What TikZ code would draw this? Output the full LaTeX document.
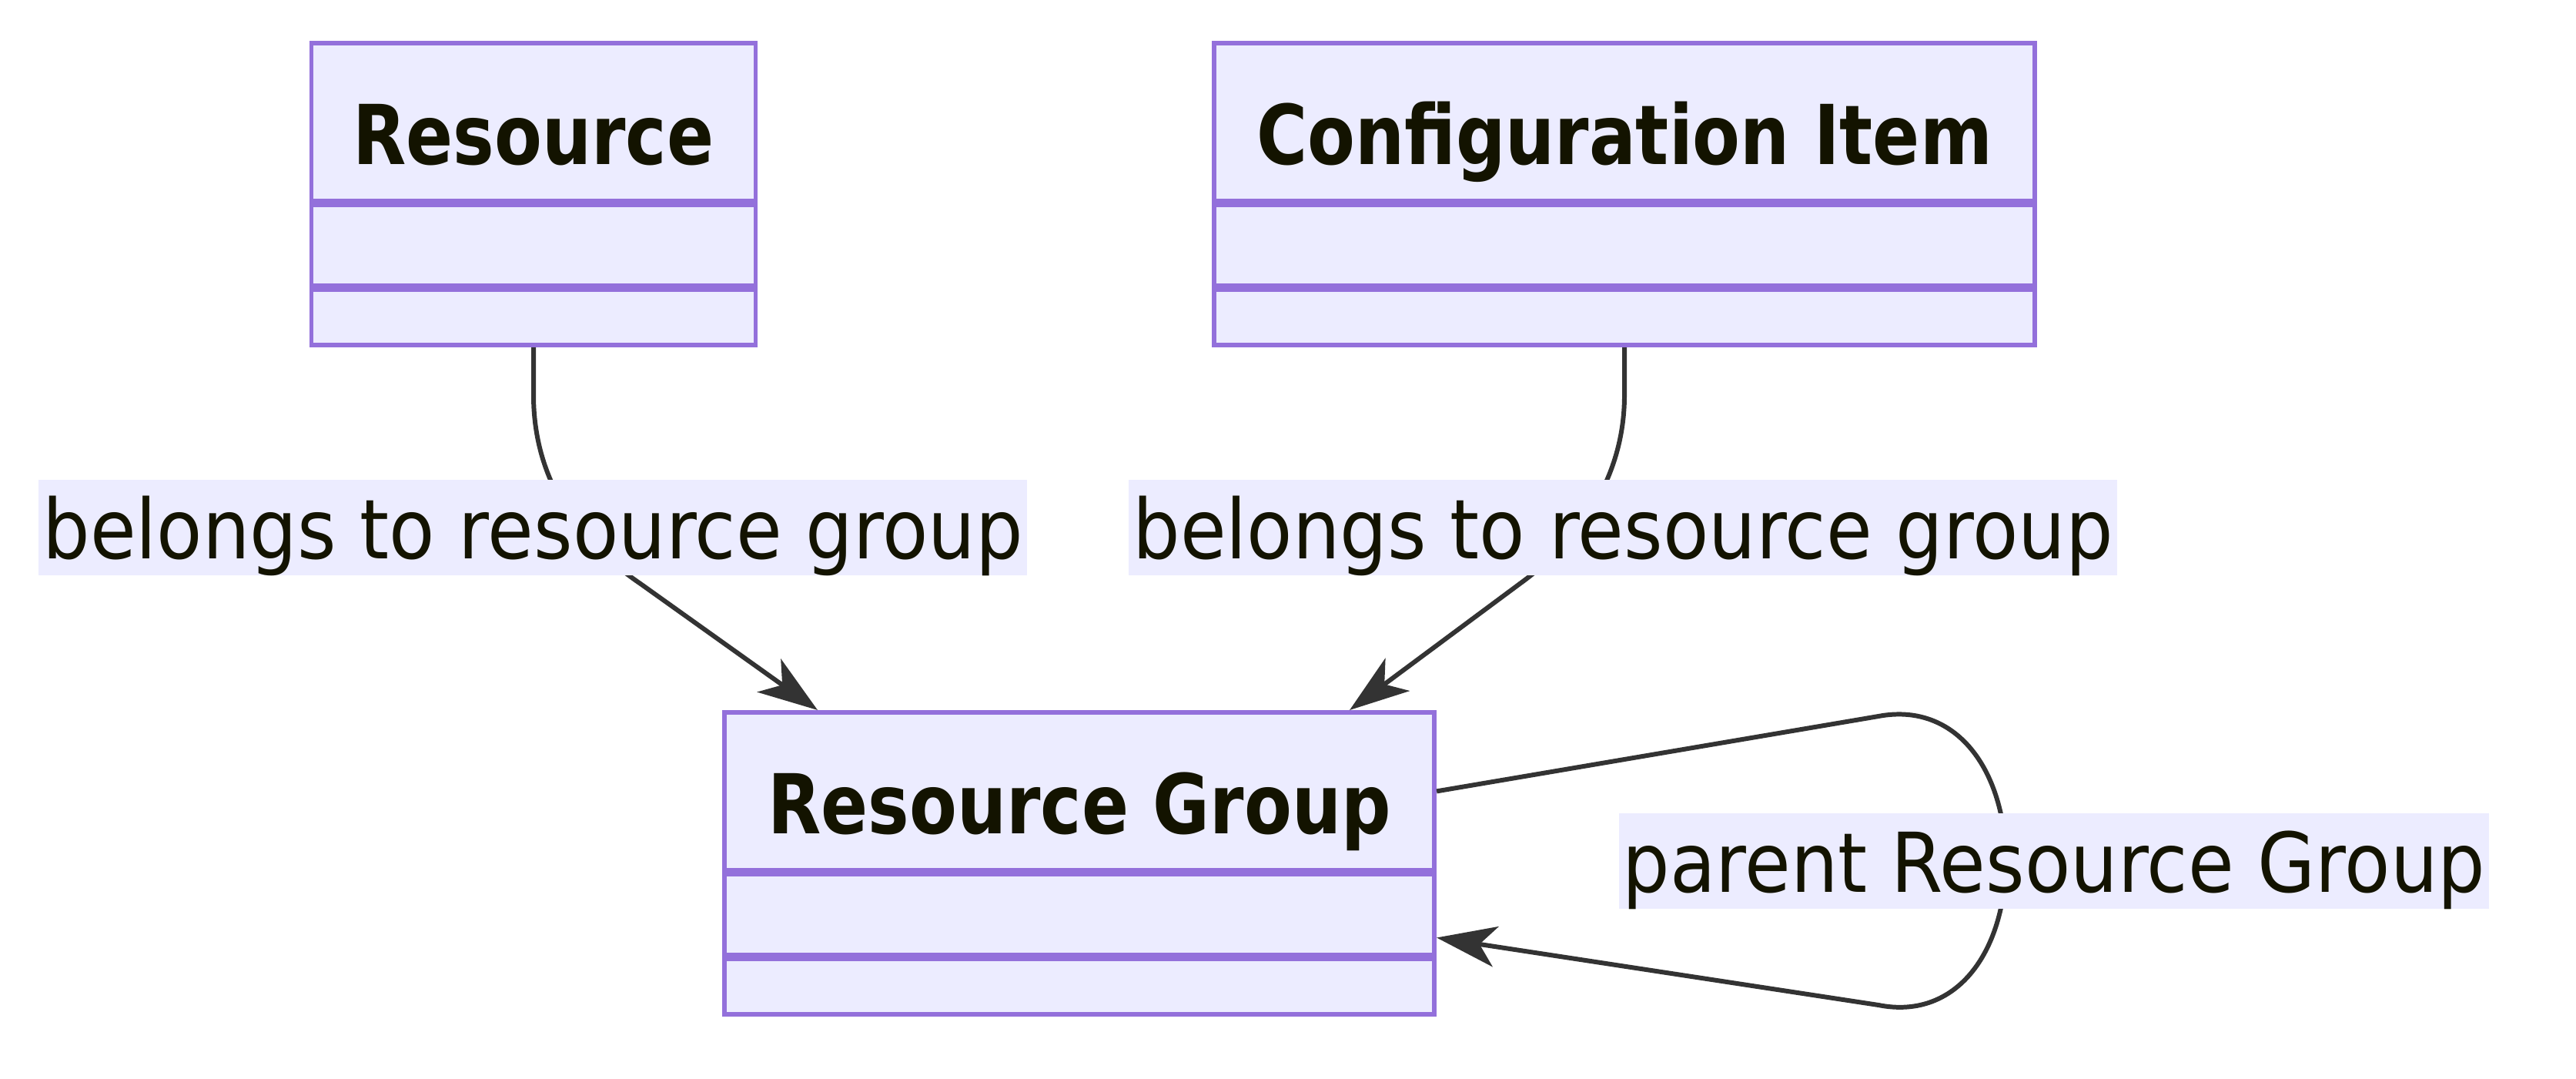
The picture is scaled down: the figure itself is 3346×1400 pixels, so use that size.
\documentclass[tikz,border=0pt]{standalone}
\usepackage{fontspec}
\setmainfont{DejaVu Sans}[FakeStretch=0.905, BoldFeatures={FakeStretch=0.84}]
\usetikzlibrary{arrows.meta,calc}
\definecolor{boxfill}{HTML}{ECECFF}
\definecolor{boxline}{HTML}{9370DB}
\definecolor{edgecol}{HTML}{333333}
\definecolor{txt}{HTML}{131300}
\tikzset{
  base/.style={draw=boxline, fill=boxfill, line width=1.6pt, inner sep=0pt, anchor=north, text=txt},
  titlebox/.style={base, minimum height=2.05cm, text height=34pt, text depth=2.7pt,
    font=\fontsize{30.5}{36}\selectfont\bfseries},
  compbox/.style={base, minimum height=1.04cm},
  compboxlow/.style={base, minimum height=0.72cm},
  elabel/.style={fill=boxfill, text=txt, inner xsep=0.05cm, inner ysep=0pt,
    text height=29pt, text depth=6pt, font=\fontsize{30.5}{36}\selectfont},
  conn/.style={draw=edgecol, line width=1.7pt, -{Stealth[length=22pt,width=15pt,inset=6pt]}},
}
\begin{document}
\begin{tikzpicture}[x=0.01cm, y=-0.01cm]
\useasboundingbox (0,0) rectangle (3346,1400);
% Resource
\node[titlebox, minimum width=5.77cm] (res) at (693,53) {Resource};
\node[compbox, minimum width=5.77cm] (res2) at (res.south) {};
\node[compboxlow, minimum width=5.77cm] (res3) at (res2.south) {};
% Configuration Item
\node[titlebox, minimum width=10.65cm] (ci) at (2110,53) {Configuration Item};
\node[compbox, minimum width=10.65cm] (ci2) at (ci.south) {};
\node[compboxlow, minimum width=10.65cm] (ci3) at (ci2.south) {};
% Resource Group
\node[titlebox, minimum width=9.22cm] (rg) at (1402,922) {Resource Group};
\node[compbox, minimum width=9.22cm] (rg2) at (rg.south) {};
\node[compboxlow, minimum width=9.22cm] (rg3) at (rg2.south) {};
% edge endpoints
\coordinate (t1) at ([xshift=1.24cm]rg.north west);
\coordinate (t2) at ([xshift=-1.13cm]rg.north east);
\coordinate (s3) at (rg.east);
\coordinate (t3) at ([yshift=-1.9cm]rg.east);
% edges
\draw[conn] (res3.south) -- ++(0,62) .. controls ++(0,90) and (732,690) .. (832,758) -- (t1);
\draw[conn] (ci3.south) -- ++(0,62) .. controls ++(0,90) and (2068,690) .. (1974,758) -- (t2);
\draw[conn] (s3) -- (2440,930) .. controls (2535,912) and (2603,990) .. (2606,1118)
   .. controls (2603,1246) and (2535,1324) .. (2440,1305) -- (t3);
% labels
\node[elabel] (l1) at (692,685) {belongs to resource group};
\node[elabel] (l2) at (2108,685) {belongs to resource group};
\node[elabel] (l3) at (2668,1118) {parent Resource Group};
\end{tikzpicture}
\end{document}
